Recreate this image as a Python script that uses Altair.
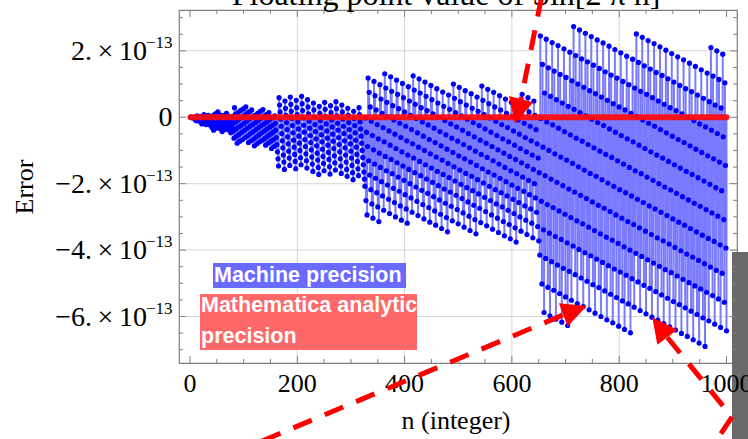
import altair as alt
import pandas as pd

# ---------------- data (error values in units of 1e-15) ----------------
n_values = list(range(1, 1001))

err_1_162 = [
    0, 0, -1, -1, -1, -1, -2, -2, -2, -2,
    -10, -3, 4, -3, -11, -4, 3, -4, -12, -5,
    2, -20, -13, -6, 1, 8, -14, -7, 0, -22,
    -15, -8, -1, 6, -16, -9, -2, -24, -17, -10,
    -31, 4, -18, -39, -4, -25, 10, -12, -33, 2,
    -20, 16, -6, -27, 8, -14, -35, 0, -22, -43,
    -8, -29, 6, -16, -37, -2, -24, 12, -10, -31,
    4, -18, -39, -4, -25, -47, -12, -33, 2, -20,
    -41, -63, 29, 8, -14, -35, -57, -78, 14, -8,
    -29, -51, -72, 20, -2, -24, -45, -67, 25, 4,
    -18, -39, -61, 31, 10, -12, -33, -55, -76, 16,
    -6, -27, -49, -71, 22, 0, -22, -43, -65, -86,
    6, -16, -37, -59, -80, 12, -10, -31, -53, -74,
    18, -4, -25, -47, -69, 23, 2, -20, -41, -63,
    -84, 8, -14, -35, -57, -78, 14, -8, -29, -51,
    -72, -94, -2, -24, -45, -67, -88, 4, -18, -39,
    -61, -82,
]
err_163_325 = [
    -104, -125, -147, 59, 37, 16, -6, -27,
    -49, -71, -92, -114, -135, -157, 49, 27, 6, -16,
    -37, -59, -80, -102, -123, -145, 61, 39, 18, -4,
    -25, -47, -69, -90, -112, -133, -155, 51, 29, 8,
    -14, -35, -57, -78, -100, -122, -143, 63, 41, 20,
    -2, -24, -45, -67, -88, -110, -131, -153, 53, 31,
    10, -12, -33, -55, -76, -98, -120, -141, -163, 43,
    22, 0, -22, -43, -65, -86, -108, -129, -151, -172,
    33, 12, -10, -31, -53, -74, -96, -118, -139, -161,
    45, 24, 2, -20, -41, -63, -84, -106, -127, -149,
    -171, 35, 14, -8, -29, -51, -72, -94, -116, -137,
    -159, 47, 26, 4, -18, -39, -61, -82, -104, -125,
    -147, -169, 37, 16, -6, -27, -49, -71, -92, -114,
    -135, -157, -178, 27, 6, -16, -37, -59, -80, -102,
    -123, -145, -167, -188, 18, -4, -25, -47, -69, -90,
    -112, -133, -155, -176, 29, 8, -14, -35, -57, -78,
    -100, -121, -143, -165, -186,
]
err_326_651 = [
    -208, -2, -251, -45, -294,
    -88, 118, -131, 75, -174, 31, -218, -12, -261, -55,
    -304, -98, 108, -141, 65, -184, 22, -227, -22, -270,
    -65, -314, -108, 98, -151, 55, -194, 12, -237, -31,
    -280, -74, 131, -118, 88, -161, 45, -204, 2, -247,
    -41, -290, -84, 122, -127, 78, -170, 35, -214, -8,
    -257, -51, -300, -94, 112, -137, 69, -180, 26, -223,
    -18, -267, -61, -310, -104, 102, -147, 59, -190, 16,
    -233, -27, -276, -71, -319, -114, 92, -157, 49, -200,
    6, -243, -37, -286, -80, 125, -123, 82, -167, 39,
    -210, -4, -253, -47, -296, -90, 116, -133, 73, -176,
    29, -220, -14, -263, -57, -306, -100, 106, -143, 63,
    -186, 20, -229, -23, -272, -67, -316, -110, 96, -153,
    53, -196, 10, -239, -33, -282, -76, -325, -120, 86,
    -163, 43, -206, 0, -249, -43, -292, -86, -335, -129,
    76, -172, 33, -216, -10, -259, -53, -302, -96, -345,
    -139, 67, -182, 24, -225, -20, -268, -63, -312, -106,
    100, -149, 57, -192, 14, -235, -29, -278, -72, -321,
    -116, 90, -159, 47, -202, 4, -245, -39, -288, -82,
    -331, -125, 80, -169, 37, -212, -6, -255, -49, -298,
    -92, -341, -135, 71, -178, 27, -221, -16, -265, -59,
    -308, -102, -351, -145, 61, -188, 18, -231, -25, -274,
    -69, -317, -112, 94, -155, 51, -198, 8, -241, -35,
    -284, -78, -327, -121, 84, -165, 41, -208, -2, -251,
    -45, -294, -88, -337, -131, 75, -174, 31, -218, -12,
    -261, -55, -304, -98, -347, -141, 65, -184, 22, -227,
    -22, -270, -65, -314, -108, -357, -151, 55, -194, 12,
    -237, -31, -280, -74, -323, -118, -366, -161, 45, -204,
    2, -247, -41, -290, -84, -333, -127, -376, -170, 35,
    -214, -8, -257, -51, -300, -94, -343, -137, 69, -180,
    26, -223, -18, -267, -61, -310, -104, -353, -147, 59,
    -190, 16, -233, -27, -276, -71, -319, -114, -363, -157,
    49, -200, 6, -243, -37, -286, -80, -329, -123, -372, -167,
]
err_652_1000 = [
    -415, 245, -4, -253, -502, 159, -90, -339, -588,
    73, -176, -425, 235, -14, -263, -512, 149, -100, -349,
    -598, 63, -186, -435, 225, -23, -272, -521, 139, -110,
    -359, -608, 53, -196, -445, 216, -33, -282, -531, 129,
    -120, -368, -617, 43, -206, -455, 206, -43, -292, -541,
    120, -129, -378, -627, 33, -216, -464, 196, -53, -302,
    -551, 110, -139, -388, 273, 24, -225, -474, 186, -63,
    -312, -561, 100, -149, -398, 263, 14, -235, -484, 176,
    -72, -321, -570, 90, -159, -408, 253, 4, -245, -494,
    167, -82, -331, -580, 80, -169, -417, 243, -6, -255,
    -504, 157, -92, -341, -590, 71, -178, -427, 233, -16,
    -265, -513, 147, -102, -351, -600, 61, -188, -437, 224,
    -25, -274, -523, 137, -112, -361, -610, 51, -198, -447,
    214, -35, -284, -533, 127, -121, -370, -619, 41, -208,
    -457, 204, -45, -294, -543, 118, -131, -380, -629, 31,
    -218, -466, 194, -55, -304, -553, 108, -141, -390, -639,
    22, -227, -476, 184, -65, -314, -562, 98, -151, -400,
    -649, 12, -237, -486, 175, -74, -323, -572, 88, -161,
    -410, 251, 2, -247, -496, 165, -84, -333, -582, 78,
    -170, -419, 241, -8, -257, -506, 155, -94, -343, -592,
    69, -180, -429, 231, -18, -267, -515, 145, -104, -353,
    -602, 59, -190, -439, 222, -27, -276, -525, 135, -114,
    -363, -611, 49, -200, -449, 212, -37, -286, -535, 126,
    -123, -372, -621, 39, -210, -459, 202, -47, -296, -545,
    116, -133, -382, -631, 29, -219, -468, 192, -57, -306,
    -555, 106, -143, -392, -641, 20, -229, -478, 182, -67,
    -316, -564, 96, -153, -402, -651, 10, -239, -488, 173,
    -76, -325, -574, 86, -163, -412, -660, 0, -249, -498,
    163, -86, -335, -584, 77, -172, -421, -670, -10, -259,
    -508, 153, -96, -345, -594, 67, -182, -431, -680, -20,
    -268, -517, 143, -106, -355, -604, 57, -192, -441, -690,
    -29, -278, -527, 133, -116, -365, -613, 47, -202, -451,
    210, -39, -288, -537, 124, -125, -374, -623, 37, -212,
    -461, 200, -49, -298, -547, 114, -135, -384, -633, 28,
    -221, -470, 190, -59, -308, -557, 104, -145, -394, -643,
]
machine_err = err_1_162 + err_163_325 + err_326_651 + err_652_1000

analytic_n = [1, 1000]
analytic_err = [0, 0]

x_tick_values = [0, 200, 400, 600, 800, 1000]
x_tick_labels = ["0", "200", "400", "600", "800", "1000"]
x_minor_values = [50, 100, 150, 250, 300, 350, 450, 500, 550, 650, 700, 750, 850, 900, 950]
y_tick_values = [200, -200, -400, -600]
y_tick_base = ["2.\u2009\u00d7\u200910", "\u22122.\u2009\u00d7\u200910",
               "\u22124.\u2009\u00d7\u200910", "\u22126.\u2009\u00d7\u200910"]
y_tick_sup = ["\u221213", "\u221213", "\u221213", "\u221213"]
y_major_values = [200, 0, -200, -400, -600]
y_minor_values = [300, 250, 150, 100, 50, -50, -100, -150, -250, -300, -350,
                  -450, -500, -550, -650, -700]

title_text = "Floating point value of Sin[2 \u03c0 n]"

# ---------------- layout ----------------
W, H = 558, 353
SERIF = "Liberation Serif"
SANS = "Liberation Sans"
FRAME = "#7f7f7f"

xs = alt.Scale(domain=[-20.5, 1019.6], nice=False, zero=False)
ys = alt.Scale(domain=[-740, 323], nice=False, zero=False)


def X(f="n"):
    return alt.X(f"{f}:Q", scale=xs, axis=None)


def Y(f="err"):
    return alt.Y(f"{f}:Q", scale=ys, axis=None)


df = pd.DataFrame({"n": n_values, "err": machine_err})
df_red = pd.DataFrame({"n": analytic_n, "err": analytic_err})

gray_box = alt.Chart().mark_rect(color="#6a6a6a").encode(
    x=alt.value(553), x2=alt.value(575), y=alt.value(242), y2=alt.value(440))

grid_x = alt.Chart(pd.DataFrame({"n": [200, 400, 600, 800]})).mark_rule(
    color="#d6d6d6", strokeWidth=1).encode(x=X())
grid_y = alt.Chart(pd.DataFrame({"err": [200, -200, -400, -600]})).mark_rule(
    color="#d6d6d6", strokeWidth=1).encode(y=Y())

stems = alt.Chart(df).mark_rule(color="#7a7aff", strokeWidth=2).encode(
    x=X(), y=Y(), y2=alt.datum(0))
points = alt.Chart(df).mark_circle(color="#0000ff", size=27, opacity=1).encode(
    x=X(), y=Y())
red_line = alt.Chart(df_red).mark_line(color="#ff0a0a", strokeWidth=6, strokeCap="round",
                                       opacity=0.92).encode(x=X(), y=Y())

# frame ticks (pointing inward)
def xticks(vals, length):
    d = pd.DataFrame({"n": vals})
    bottom = alt.Chart(d).mark_rule(color=FRAME, strokeWidth=1).encode(
        x=X(), y=alt.value(H), y2=alt.value(H - length))
    top = alt.Chart(d).mark_rule(color=FRAME, strokeWidth=1).encode(
        x=X(), y=alt.value(0), y2=alt.value(length))
    return [bottom, top]


def yticks(vals, length):
    d = pd.DataFrame({"err": vals})
    left = alt.Chart(d).mark_rule(color=FRAME, strokeWidth=1).encode(
        y=Y(), x=alt.value(0), x2=alt.value(length))
    right = alt.Chart(d).mark_rule(color=FRAME, strokeWidth=1).encode(
        y=Y(), x=alt.value(W), x2=alt.value(W - length))
    return [left, right]


ticks = xticks(x_tick_values, 7) + xticks(x_minor_values, 4) + \
    yticks(y_major_values, 7) + yticks(y_minor_values, 4)

# tick labels
x_labels = alt.Chart(pd.DataFrame({"n": x_tick_values, "lab": x_tick_labels})).mark_text(
    font=SERIF, fontSize=26, color="black", align="center", baseline="alphabetic").encode(
    x=X(), y=alt.value(H + 29), text="lab:N")

ylab_df = pd.DataFrame({"err": y_tick_values, "base": y_tick_base, "sup": y_tick_sup})
y_base = alt.Chart(ylab_df).mark_text(
    font=SERIF, fontSize=28, color="black", align="right", baseline="alphabetic", dy=9).encode(
    y=Y(), x=alt.value(-32), text="base:N")
y_sup = alt.Chart(ylab_df).mark_text(
    font=SERIF, fontSize=17, color="black", align="right", baseline="alphabetic", dy=-3).encode(
    y=Y(), x=alt.value(-6.5), text="sup:N")
y_zero = alt.Chart(pd.DataFrame({"err": [0], "lab": ["0"]})).mark_text(
    font=SERIF, fontSize=28, color="black", align="right", baseline="alphabetic", dy=9).encode(
    y=Y(), x=alt.value(-6.5), text="lab:N")

y_title = alt.Chart().mark_text(text="Error", font=SERIF, fontSize=26, color="black",
                                align="center", baseline="alphabetic", angle=270).encode(
    x=alt.value(-146), y=alt.value(177))
x_title = alt.Chart().mark_text(text="n (integer)", font=SERIF, fontSize=26, color="black",
                                align="center", baseline="alphabetic").encode(
    x=alt.value(277), y=alt.value(419))
top_title = alt.Chart().mark_text(text=title_text, font=SERIF, fontSize=32, color="black",
                                  align="center", baseline="alphabetic").encode(
    x=alt.value(267), y=alt.value(-5))

# legend boxes
blue_box = alt.Chart().mark_rect(color="#6a6aff").encode(
    x=alt.value(34), x2=alt.value(227), y=alt.value(253), y2=alt.value(278))
blue_text = alt.Chart().mark_text(text="Machine precision", font=SANS, fontWeight="bold",
                                  fontSize=21.5, color="white", align="left",
                                  baseline="alphabetic").encode(x=alt.value(35), y=alt.value(272))
red_box = alt.Chart().mark_rect(color="#ff6868").encode(
    x=alt.value(21), x2=alt.value(238), y=alt.value(284), y2=alt.value(340))
red_text1 = alt.Chart().mark_text(text="Mathematica analytic", font=SANS, fontWeight="bold",
                                  fontSize=21.5, color="white", align="left",
                                  baseline="alphabetic").encode(x=alt.value(22), y=alt.value(302))
red_text2 = alt.Chart().mark_text(text="precision", font=SANS, fontWeight="bold",
                                  fontSize=21.5, color="white", align="left",
                                  baseline="alphabetic").encode(x=alt.value(22), y=alt.value(333))

# red dashed arrows
DASH = [20, 14]


def seg(x1, y1, x2, y2):
    return alt.Chart().mark_rule(color="#ff0000", strokeWidth=5, strokeDash=DASH).encode(
        x=alt.value(x1), y=alt.value(y1), x2=alt.value(x2), y2=alt.value(y2))


def head(x, y, ang):
    return alt.Chart().mark_point(shape="M0,-1L1,1L-1,1Z", filled=True, size=625,
                                  color="#ff0000", opacity=1, strokeWidth=0, angle=ang).encode(
        x=alt.value(x), y=alt.value(y))


arrows = [
    seg(362.6, -13, 342, 89.5), head(339, 101.3, 194.5),
    seg(83, 431, 384, 305), head(396, 300.5, 69.5),
    seg(488.5, 327.5, 553, 407), seg(553, 407, 535, 434), head(480.8, 317.3, 323),
]

layers = [gray_box, grid_x, grid_y, stems, points, red_line] + ticks + \
    [x_labels, y_base, y_sup, y_zero, y_title, x_title, top_title,
     blue_box, blue_text, red_box, red_text1, red_text2] + arrows

chart = alt.layer(*layers).properties(
    width=W, height=H,
    padding={"left": 179, "top": 10, "right": 11, "bottom": 76},
    autosize=alt.AutoSizeParams(type="none"),
    background="white",
).configure_view(stroke=FRAME, strokeWidth=1.2)

chart.save("out.html", embed_options={"renderer": "svg", "actions": False})
